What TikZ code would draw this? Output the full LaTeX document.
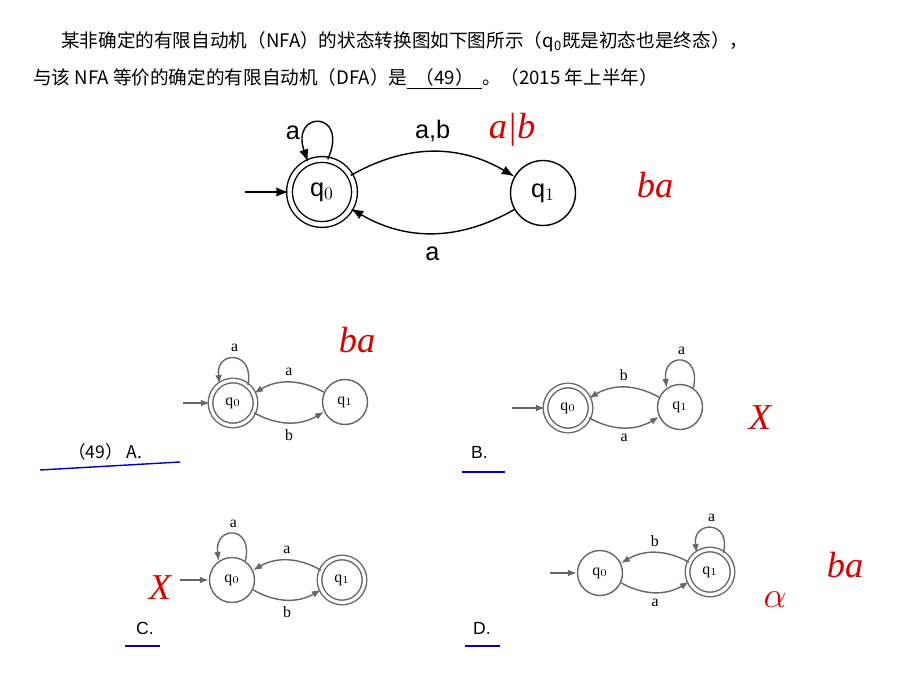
\documentclass[tikz,border=0pt]{standalone}
\usepackage{fontspec}
\setmainfont{Liberation Serif}
\newfontfamily\cjk{Noto Sans CJK SC}
\newfontfamily\arial{Liberation Sans}
\usetikzlibrary{arrows.meta}
\tikzset{
  big/.style={circle, draw, thick, minimum size=1.3cm, inner sep=0pt, font=\arial\Large},
  bigacc/.style={big, double, double distance=2.5pt},
  small/.style={circle, draw=gray!80!black, thick, minimum size=0.9cm, inner sep=0pt, font=\small},
  smallacc/.style={small, double, double distance=1.8pt},
  edge/.style={thick, -{Latex[length=2.5mm]}},
  sedge/.style={draw=gray!80!black, thick, -{Latex[length=1.8mm]}},
  lbl/.style={font=\small},
  red ink/.style={red!85!black, font=\huge\itshape},
  blue ink/.style={blue!80!black, thick},
}
\begin{document}
\begin{tikzpicture}[x=0.02cm, y=-0.02cm]
\useasboundingbox (0,0) rectangle (915,675);
% question text
\node[anchor=west, font=\cjk\fontsize{10.6}{13}\selectfont] (line1) at (55,42) {某非确定的有限自动机（NFA）的状态转换图如下图所示（q\textsubscript{0}既是初态也是终态），};
\node[anchor=west, font=\cjk\fontsize{10.6}{13}\selectfont] (line2) at (27,79) {与该 NFA 等价的确定的有限自动机（DFA）是\underline{\ \ （49）\ \ }。（2015 年上半年）};
% main NFA
\node[bigacc] (q0) at (322,192) {q$_0$};
\node[big] (q1) at (543,193) {q$_1$};
\coordinate (s0) at (245,192);
\draw[edge] (s0) -- (q0);
\draw[edge] (q0.80) .. controls (350,110) and (290,110) .. (q0.115) node[pos=0.75, left, font=\arial\Large] {a};
\draw[edge] (q0.30) to[bend left=30] node[above=2pt, font=\arial\Large] {a,b} (q1.150);
\draw[edge] (q1.210) to[bend left=30] node[below=4pt, font=\arial\Large] {a} (q0.330);
% option A
\node[smallacc] (a0) at (233,403) {q$_0$};
\node[small] (a1) at (345,402) {q$_1$};
\coordinate (as) at (183,403);
\draw[sedge] (as) -- (a0);
\draw[sedge] (a0.50) .. controls (255,350) and (215,350) .. (a0.125) node[pos=0.5, above, lbl] {a};
\draw[sedge] (a1.155) to[bend right=30] node[above, lbl] {a} (a0.25);
\draw[sedge] (a0.335) to[bend right=30] node[below, lbl] {b} (a1.205);
\node[anchor=west, font=\cjk] (la) at (62,452) {（49） A.};
% option B
\node[smallacc] (b0) at (568,408) {q$_0$};
\node[small] (b1) at (680,407) {q$_1$};
\coordinate (bs) at (512,408);
\draw[sedge] (bs) -- (b0);
\draw[sedge] (b1.55) .. controls (702,352) and (662,352) .. (b1.125) node[pos=0.5, above, lbl] {a};
\draw[sedge] (b1.155) to[bend right=30] node[above, lbl] {b} (b0.25);
\draw[sedge] (b0.335) to[bend right=30] node[below, lbl] {a} (b1.205);
\node[anchor=west, font=\arial] (lb) at (465,452) {B.};
% option C
\node[small] (c0) at (232,580) {q$_0$};
\node[smallacc] (c1) at (342,580) {q$_1$};
\coordinate (cs) at (180,580);
\draw[sedge] (cs) -- (c0);
\draw[sedge] (c0.55) .. controls (254,525) and (214,525) .. (c0.125) node[pos=0.5, above, lbl] {a};
\draw[sedge] (c1.155) to[bend right=30] node[above, lbl] {a} (c0.25);
\draw[sedge] (c0.335) to[bend right=30] node[below, lbl] {b} (c1.205);
\node[anchor=west, font=\arial] (lc) at (130,628) {C.};
% option D
\node[small] (d0) at (600,573) {q$_0$};
\node[smallacc] (d1) at (710,572) {q$_1$};
\coordinate (ds) at (550,573);
\draw[sedge] (ds) -- (d0);
\draw[sedge] (d1.55) .. controls (732,520) and (692,520) .. (d1.125) node[pos=0.5, above, lbl] {a};
\draw[sedge] (d1.155) to[bend right=30] node[above, lbl] {b} (d0.25);
\draw[sedge] (d0.335) to[bend right=30] node[below, lbl] {a} (d1.205);
\node[anchor=west, font=\arial] (ld) at (467,628) {D.};
% handwritten marks
\node[red ink] (h1) at (512,130) {a|b};
\node[red ink] (h2) at (655,185) {ba};
\node[red ink] (h3) at (357,340) {ba};
\node[red ink] (h4) at (760,418) {X};
\node[red ink] (h5) at (160,588) {X};
\node[red ink] (h6) at (845,565) {ba};
\node[red ink] (h7) at (775,600) {$\alpha$};
\draw[blue ink] (40,470) -- (180,462);
\draw[blue ink] (462,472) -- (505,472);
\draw[blue ink] (125,646) -- (160,646);
\draw[blue ink] (465,646) -- (500,646);
\end{tikzpicture}
\end{document}
